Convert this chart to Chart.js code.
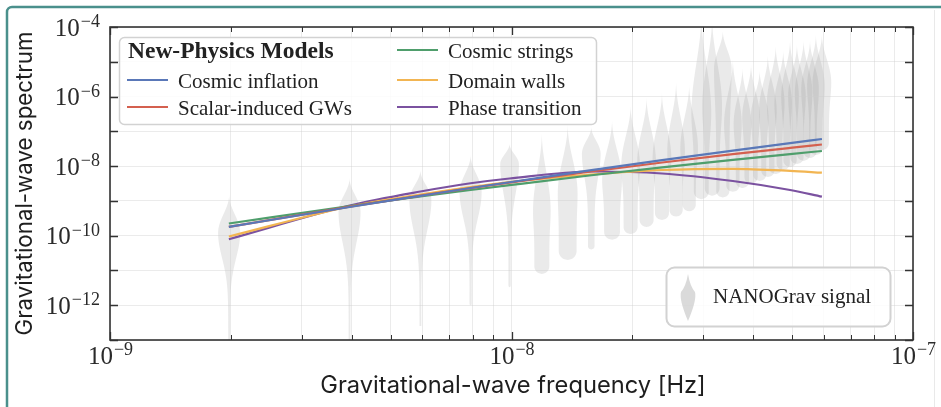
<!DOCTYPE html>
<html>
<head>
<meta charset="utf-8">
<script src="https://cdn.jsdelivr.net/npm/chart.js@4.4.1/dist/chart.umd.min.js"></script>
<style>
  html, body { margin: 0; padding: 0; background: #fff; }
</style>
</head>
<body>
<canvas id="gwChart" width="941" height="407"></canvas>
<script>
// model curves, sampled at a few NANOGrav bins
const modelFreqs = [1.977e-9, 3.954e-9, 5.931e-9, 7.908e-9, 9.885e-9, 1.582e-8, 2.372e-8, 3.559e-8, 4.943e-8, 5.931e-8];
const cosmicInflation = [1.78e-10, 6.68e-10, 1.40e-9, 2.35e-9, 3.43e-9, 7.63e-9, 1.48e-8, 2.79e-8, 4.59e-8, 6.02e-8];
const scalarInduced = [1.78e-10, 6.81e-10, 1.41e-9, 2.32e-9, 3.34e-9, 7.00e-9, 1.27e-8, 2.20e-8, 3.34e-8, 4.18e-8];
const cosmicStrings = [2.24e-10, 7.14e-10, 1.34e-9, 2.06e-9, 2.83e-9, 5.45e-9, 9.25e-9, 1.52e-8, 2.22e-8, 2.72e-8];
const domainWalls = [9.47e-11, 6.90e-10, 1.53e-9, 2.51e-9, 3.49e-9, 5.74e-9, 7.73e-9, 8.37e-9, 7.33e-9, 6.47e-9];
const phaseTransition = [7.87e-11, 7.37e-10, 1.86e-9, 3.21e-9, 4.41e-9, 7.00e-9, 6.14e-9, 3.73e-9, 2.06e-9, 1.32e-9];

const modelLabels = ['Cosmic inflation', 'Scalar-induced GWs', 'Cosmic strings', 'Domain walls', 'Phase transition'];
const modelColors = ['#5a78b8', '#d4604f', '#4f9e6c', '#f2b552', '#7b52a0'];

// NANOGrav violins: bin frequency, log10 of top / widest / bottom, relative width, bottom width
const violinFreqs = [1.98e-9, 3.95e-9, 5.93e-9, 7.91e-9, 9.89e-9, 1.19e-8, 1.38e-8, 1.58e-8, 1.78e-8, 1.98e-8,
  2.17e-8, 2.37e-8, 2.57e-8, 2.77e-8, 2.97e-8, 3.16e-8, 3.36e-8, 3.56e-8, 3.76e-8, 3.95e-8,
  4.15e-8, 4.35e-8, 4.55e-8, 4.75e-8, 4.94e-8, 5.14e-8, 5.34e-8, 5.54e-8, 5.73e-8, 5.93e-8];
const violinTop = [-8.83, -8.34, -8.11, -7.68, -7.36, -7.02, -6.79, -6.87, -6.67, -6.24,
  -6.0, -5.87, -5.55, -5.64, -3.6, -3.7, -4.1, -4.92, -5.15, -5.06,
  -5.24, -4.78, -4.52, -4.66, -4.37, -4.49, -4.37, -4.37, -4.2, -4.2];
const violinPeak = [-9.92, -9.32, -8.97, -8.75, -7.95, -9.3, -8.8, -7.65, -8.4, -8.0,
  -7.9, -7.8, -7.6, -7.5, -6.5, -6.3, -5.2, -6.8, -6.8, -6.6,
  -6.6, -6.4, -6.2, -6.2, -6.0, -6.0, -5.9, -5.8, -5.7, -5.6];
const violinBottom = [-13.0, -13.0, -12.6, -12.0, -11.48, -11.1, -10.7, -10.4, -10.12, -9.95,
  -9.75, -9.55, -9.45, -9.3, -8.95, -8.85, -8.9, -8.74, -8.63, -8.51,
  -8.43, -8.31, -8.23, -8.11, -8.03, -7.94, -7.85, -7.77, -7.68, -7.54];
const violinWidth = [1.0, 1.0, 1.0, 1.0, 0.85, 0.8, 0.9, 0.85, 0.9, 0.85,
  0.85, 0.85, 0.8, 0.8, 0.9, 0.9, 0.8, 0.8, 0.8, 0.8,
  0.8, 0.8, 0.8, 0.8, 0.8, 0.8, 0.8, 0.8, 0.8, 0.85];
const violinTail = [0.08, 0.08, 0.08, 0.1, 0.12, 0.85, 0.9, 0.35, 0.8, 0.75,
  0.75, 0.75, 0.75, 0.75, 0.75, 0.75, 0.75, 0.75, 0.75, 0.75,
  0.75, 0.75, 0.75, 0.75, 0.75, 0.75, 0.75, 0.75, 0.75, 0.75];

const xMajorTicks = [1e-9, 1e-8, 1e-7];
const yDecadeTicks = [1e-13, 1e-12, 1e-11, 1e-10, 1e-9, 1e-8, 1e-7, 1e-6, 1e-5, 1e-4];
const yLabelTicks = [1e-12, 1e-10, 1e-8, 1e-6, 1e-4];

const legendTitle = 'New-Physics Models';
const signalLabel = 'NANOGrav signal';
const xTitle = 'Gravitational-wave frequency [Hz]';
const yTitle = 'Gravitational-wave spectrum';

const xAllTicks = [];
xMajorTicks.forEach((d, i) => {
  if (i === xMajorTicks.length - 1) { xAllTicks.push(d); return; }
  for (let m = 1; m < 10; m++) xAllTicks.push(d * m);
});

const SERIF = '"Liberation Serif", "DejaVu Serif", serif';
const SANS = 'Inter, "Open Sans", sans-serif';
const violinFill = 'rgba(150,150,150,0.2)';
const axisColor = '#333333';

function supLabel(v) {
  const e = Math.round(Math.log10(v));
  return { base: '10', exp: '\u2212' + Math.abs(e) };
}

// font size that makes a text run a given width
function fitFont(ctx, text, width, family) {
  ctx.font = '20px ' + family;
  return (20 * width / ctx.measureText(text).width).toFixed(1) + 'px ' + family;
}

function drawViolin(ctx, xs, ys, i) {
  const halfPx = 11 * violinWidth[i];
  const top = violinTop[i], peak = violinPeak[i], bot = violinBottom[i], tail = violinTail[i];
  const cx = xs.getPixelForValue(violinFreqs[i]);
  const yTop = ys.getPixelForValue(Math.pow(10, top));
  const yBot = ys.getPixelForValue(Math.pow(10, bot));
  const capR = halfPx * tail;
  const side = [];
  for (let y = yTop; y <= yBot; y += 1) {
    const v = Math.log10(ys.getValueForPixel(y));
    let r;
    if (v >= peak) {
      const t = (top - v) / (top - peak);
      r = Math.pow(Math.sin(Math.min(1, t) * Math.PI / 2), 2);
    } else {
      const s = (peak - v) / (peak - bot);
      r = tail + (1 - tail) * Math.exp(-Math.pow(s * 3, 2));
    }
    let hw = halfPx * r;
    const d = yBot - y;
    if (capR > 1 && d < capR) hw *= Math.sqrt(Math.max(0, 1 - Math.pow((capR - d) / capR, 2)));
    side.push([y, hw]);
  }
  ctx.beginPath();
  ctx.moveTo(cx, yTop);
  side.forEach(p => ctx.lineTo(cx + p[1], p[0]));
  ctx.lineTo(cx, yBot);
  for (let k = side.length - 1; k >= 0; k--) ctx.lineTo(cx - side[k][1], side[k][0]);
  ctx.closePath();
  ctx.fill();
}

function roundBox(ctx, x, y, w, h, r) {
  ctx.beginPath();
  ctx.moveTo(x + r, y);
  ctx.arcTo(x + w, y, x + w, y + h, r);
  ctx.arcTo(x + w, y + h, x, y + h, r);
  ctx.arcTo(x, y + h, x, y, r);
  ctx.arcTo(x, y, x + w, y, r);
  ctx.closePath();
}

const decor = {
  id: 'decor',
  beforeDraw(chart) {
    const ctx = chart.ctx;
    const a = chart.chartArea;
    ctx.save();
    ctx.fillStyle = '#fff';
    ctx.fillRect(0, 0, chart.width, chart.height);
    // page frame
    ctx.strokeStyle = '#4a908c';
    ctx.lineWidth = 2.5;
    ctx.beginPath();
    ctx.moveTo(7, chart.height);
    ctx.lineTo(7, 12);
    ctx.arcTo(7, 7, 12, 7, 5);
    ctx.lineTo(chart.width, 7);
    ctx.stroke();
    ctx.strokeStyle = '#e9e9e9';
    ctx.lineWidth = 1;
    ctx.beginPath();
    ctx.moveTo(934.5, 10);
    ctx.lineTo(934.5, chart.height);
    ctx.stroke();
    // violins
    ctx.beginPath();
    ctx.rect(a.left, a.top, a.right - a.left, a.bottom - a.top);
    ctx.clip();
    ctx.fillStyle = violinFill;
    violinFreqs.forEach((f, i) => drawViolin(ctx, chart.scales.x, chart.scales.y, i));
    ctx.restore();
  },
  afterDatasetsDraw(chart) {
    const ctx = chart.ctx;
    ctx.save();
    // model legend
    roundBox(ctx, 119.5, 37.5, 477, 87, 5);
    ctx.fillStyle = 'rgba(255,255,255,0.85)';
    ctx.fill();
    ctx.strokeStyle = '#d2d2d2';
    ctx.lineWidth = 1.5;
    ctx.stroke();
    ctx.fillStyle = '#222';
    ctx.textBaseline = 'alphabetic';
    ctx.textAlign = 'left';
    ctx.font = 'bold 23.5px ' + SERIF;
    ctx.fillText(legendTitle, 128, 58);
    const cells = [[127, 88], [127, 115], [397, 58], [397, 88], [397, 115]];
    chart.data.datasets.forEach((ds, i) => {
      const [lx, ly] = cells[i];
      ctx.strokeStyle = ds.borderColor;
      ctx.lineWidth = 2;
      ctx.beginPath();
      ctx.moveTo(lx, ly - 8);
      ctx.lineTo(lx + 41, ly - 8);
      ctx.stroke();
      ctx.font = '21px ' + SERIF;
      ctx.fillText(ds.label, lx + 51, ly);
    });
    // signal legend
    roundBox(ctx, 666.5, 267.5, 224, 59, 8);
    ctx.fillStyle = 'rgba(255,255,255,0.85)';
    ctx.fill();
    ctx.strokeStyle = '#d2d2d2';
    ctx.stroke();
    ctx.fillStyle = 'rgba(150,150,150,0.35)';
    ctx.beginPath();
    ctx.moveTo(688, 274);
    ctx.quadraticCurveTo(690, 286, 695, 292);
    ctx.quadraticCurveTo(697, 300, 688, 321);
    ctx.quadraticCurveTo(679, 300, 681, 292);
    ctx.quadraticCurveTo(686, 286, 688, 274);
    ctx.fill();
    ctx.fillStyle = '#222';
    ctx.font = '21px ' + SERIF;
    ctx.fillText(signalLabel, 713, 303);
    ctx.restore();
  },
  afterDraw(chart) {
    const ctx = chart.ctx;
    const a = chart.chartArea;
    const xs = chart.scales.x, ys = chart.scales.y;
    ctx.save();
    ctx.strokeStyle = axisColor;
    // tick marks, pointing inward on all sides
    xAllTicks.forEach(v => {
      const px = Math.round(xs.getPixelForValue(v)) + 0.5;
      const major = xMajorTicks.includes(v);
      const len = major ? 8 : 5;
      ctx.lineWidth = major ? 1.3 : 1;
      ctx.beginPath();
      ctx.moveTo(px, a.bottom); ctx.lineTo(px, a.bottom - len);
      ctx.moveTo(px, a.top); ctx.lineTo(px, a.top + len);
      ctx.stroke();
    });
    yDecadeTicks.forEach(v => {
      const py = Math.round(ys.getPixelForValue(v)) + 0.5;
      ctx.lineWidth = 1.3;
      ctx.beginPath();
      ctx.moveTo(a.left, py); ctx.lineTo(a.left + 8, py);
      ctx.moveTo(a.right, py); ctx.lineTo(a.right - 8, py);
      ctx.stroke();
    });
    // spines
    ctx.lineWidth = 1.6;
    ctx.strokeRect(a.left, a.top, a.right - a.left, a.bottom - a.top);
    // tick labels
    ctx.fillStyle = '#2a2a2a';
    ctx.textBaseline = 'alphabetic';
    const baseFont = '25px ' + SERIF, expFont = '18px ' + SERIF;
    xMajorTicks.forEach(v => {
      const lab = supLabel(v);
      ctx.font = baseFont;
      const wb = ctx.measureText(lab.base).width;
      ctx.font = expFont;
      const we = ctx.measureText(lab.exp).width;
      const x0 = xs.getPixelForValue(v) - (wb + we) / 2;
      ctx.textAlign = 'left';
      ctx.font = baseFont;
      ctx.fillText(lab.base, x0, 364);
      ctx.font = expFont;
      ctx.fillText(lab.exp, x0 + wb + 1, 355);
    });
    yLabelTicks.forEach(v => {
      const lab = supLabel(v);
      const py = ys.getPixelForValue(v);
      ctx.font = expFont;
      const we = ctx.measureText(lab.exp).width;
      ctx.textAlign = 'left';
      ctx.fillText(lab.exp, 100 - we, py);
      ctx.font = baseFont;
      ctx.textAlign = 'right';
      ctx.fillText(lab.base, 99 - we, py + 8.5);
    });
    // axis titles
    ctx.fillStyle = '#1e1e1e';
    ctx.textAlign = 'center';
    ctx.font = fitFont(ctx, xTitle, 386, SANS);
    ctx.fillText(xTitle, 513, 393);
    ctx.font = fitFont(ctx, yTitle, 304, SANS);
    ctx.translate(32, (a.top + a.bottom) / 2);
    ctx.rotate(-Math.PI / 2);
    ctx.fillText(yTitle, 0, 0);
    ctx.restore();
  }
};

const modelSeries = [cosmicInflation, scalarInduced, cosmicStrings, domainWalls, phaseTransition];

new Chart(document.getElementById('gwChart'), {
  type: 'line',
  data: {
    datasets: modelSeries.map((vals, i) => ({
      label: modelLabels[i],
      data: modelFreqs.map((f, j) => ({ x: f, y: vals[j] })),
      borderColor: modelColors[i],
      borderWidth: 2.2,
      pointRadius: 0,
      fill: false,
      cubicInterpolationMode: 'monotone'
    }))
  },
  options: {
    responsive: false,
    animation: false,
    layout: { padding: { left: 110, right: 28, top: 27, bottom: 67 } },
    plugins: { legend: { display: false }, tooltip: { enabled: false } },
    scales: {
      x: {
        type: 'logarithmic',
        min: 1e-9,
        max: 1e-7,
        afterBuildTicks: s => { s.ticks = xAllTicks.map(v => ({ value: v })); },
        ticks: { display: false },
        grid: { color: 'rgba(205,205,205,0.4)', lineWidth: 1, drawTicks: false },
        border: { display: false }
      },
      y: {
        type: 'logarithmic',
        min: 1e-13,
        max: 1e-4,
        afterBuildTicks: s => { s.ticks = yDecadeTicks.map(v => ({ value: v })); },
        ticks: { display: false },
        grid: { color: 'rgba(205,205,205,0.4)', lineWidth: 1, drawTicks: false },
        border: { display: false }
      }
    }
  },
  plugins: [decor]
});
</script>
</body>
</html>
